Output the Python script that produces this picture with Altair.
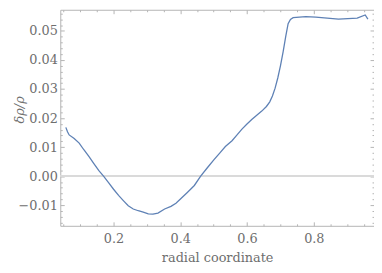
import altair as alt
import pandas as pd

# radial coordinate and relative density perturbation
r = [0.057, 0.062, 0.067, 0.082, 0.097, 0.111, 0.126, 0.141, 0.156, 0.170,
     0.185, 0.200, 0.215, 0.230, 0.244, 0.259, 0.274, 0.289, 0.304, 0.318,
     0.333, 0.353, 0.372, 0.387, 0.402, 0.421, 0.442, 0.461, 0.481, 0.501,
     0.520, 0.535, 0.555, 0.570, 0.584, 0.599, 0.614, 0.629, 0.644, 0.658,
     0.668, 0.676, 0.684, 0.692, 0.700, 0.708, 0.716, 0.723, 0.730, 0.738,
     0.776, 0.806, 0.874, 0.930, 0.954, 0.962]
drho = [0.0168, 0.0153, 0.0142, 0.0130, 0.0114, 0.0091, 0.0068, 0.0043, 0.0019, 0.0000,
        -0.0022, -0.0045, -0.0066, -0.0085, -0.0102, -0.0113, -0.0119, -0.0124, -0.0130, -0.0131,
        -0.0127, -0.0113, -0.0104, -0.0093, -0.0077, -0.0056, -0.0032, 0.0000, 0.0029, 0.0057,
        0.0082, 0.0102, 0.0122, 0.0142, 0.0161, 0.0179, 0.0195, 0.0210, 0.0224, 0.0240,
        0.0256, 0.0276, 0.0303, 0.0338, 0.0380, 0.0428, 0.0482, 0.0525, 0.0540, 0.0546,
        0.0549, 0.0548, 0.0541, 0.0544, 0.0555, 0.0541]

x_major = [0.2, 0.4, 0.6, 0.8]
x_minor = [0.05, 0.1, 0.15, 0.25, 0.3, 0.35, 0.45, 0.5, 0.55, 0.65, 0.7, 0.75, 0.85, 0.9, 0.95]
y_major = [-0.01, 0.0, 0.01, 0.02, 0.03, 0.04, 0.05]
y_minor = [-0.016, -0.014, -0.012, -0.008, -0.006, -0.004, -0.002,
           0.002, 0.004, 0.006, 0.008, 0.012, 0.014, 0.016, 0.018,
           0.022, 0.024, 0.026, 0.028, 0.032, 0.034, 0.036, 0.038,
           0.042, 0.044, 0.046, 0.048, 0.052, 0.054, 0.056]

X_DOMAIN = [0.0404, 0.9803]
Y_DOMAIN = [-0.01709, 0.0573]

df = pd.DataFrame({"r": r, "drho": drho})

FONT = "DejaVu Serif"
FRAME = "#b4b4b4"
TEXT = "#6e6e6e"
LINE = "#5E81B5"


def xs():
    return alt.Scale(domain=X_DOMAIN, nice=False, zero=False)


def ys():
    return alt.Scale(domain=Y_DOMAIN, nice=False, zero=False)


def tick_axis(orient, values, size):
    return alt.Axis(orient=orient, values=values, tickSize=size, offset=-size,
                    domain=False, grid=False, labels=False, ticks=True,
                    tickColor=FRAME, tickWidth=1, title=None)


zero_rule = alt.Chart(df).mark_rule(color="#d9d9d9", strokeWidth=1).encode(
    y=alt.YDatum(0, scale=ys(), axis=None)
)

main = alt.Chart(df).mark_line(color=LINE, strokeWidth=1.3).encode(
    x=alt.X("r:Q", scale=xs(), axis=alt.Axis(
        orient="bottom", values=x_major, format=".1f", tickSize=4, offset=-4,
        domain=False, grid=False, tickColor=FRAME, tickWidth=1,
        labelFont=FONT, labelFontSize=13, labelColor=TEXT, labelPadding=7,
        title="radial coordinate", titleFont=FONT, titleFontSize=13,
        titleColor=TEXT, titleFontWeight="normal", titleY=40,
        titleBaseline="alphabetic")),
    y=alt.Y("drho:Q", scale=ys(), axis=alt.Axis(
        orient="left", values=y_major, format=".2f", tickSize=4, offset=-4,
        domain=False, grid=False, tickColor=FRAME, tickWidth=1,
        labelFont=FONT, labelFontSize=13, labelColor=TEXT, labelPadding=3,
        title="δρ/ρ", titleFont=FONT, titleFontSize=13, titleColor=TEXT,
        titleFontWeight="normal", titleFontStyle="italic", titleAngle=270,
        titleX=-45, titleY=101, titleAlign="center", titleBaseline="middle")),
)

ghost = alt.Chart(df).mark_line(strokeOpacity=0)

top_right_major = ghost.encode(
    x=alt.X("r:Q", scale=xs(), axis=tick_axis("top", x_major, 4)),
    y=alt.Y("drho:Q", scale=ys(), axis=tick_axis("right", y_major, 4)),
)
bottom_left_minor = ghost.encode(
    x=alt.X("r:Q", scale=xs(), axis=tick_axis("bottom", x_minor, 2)),
    y=alt.Y("drho:Q", scale=ys(), axis=tick_axis("left", y_minor, 2)),
)
top_right_minor = ghost.encode(
    x=alt.X("r:Q", scale=xs(), axis=tick_axis("top", x_minor, 2)),
    y=alt.Y("drho:Q", scale=ys(), axis=tick_axis("right", y_minor, 2)),
)

chart = alt.layer(
    zero_rule, main, top_right_major, bottom_left_minor, top_right_minor
).resolve_scale(
    x="independent", y="independent"
).resolve_axis(
    x="independent", y="independent"
).properties(
    width=318, height=219,
    padding={"left": 53, "top": 0, "right": 0, "bottom": 42},
    autosize=alt.AutoSizeParams(type="none"),
).configure_view(
    stroke=FRAME, strokeWidth=1
)

chart.save("out.html", embed_options={"renderer": "svg", "actions": False})
